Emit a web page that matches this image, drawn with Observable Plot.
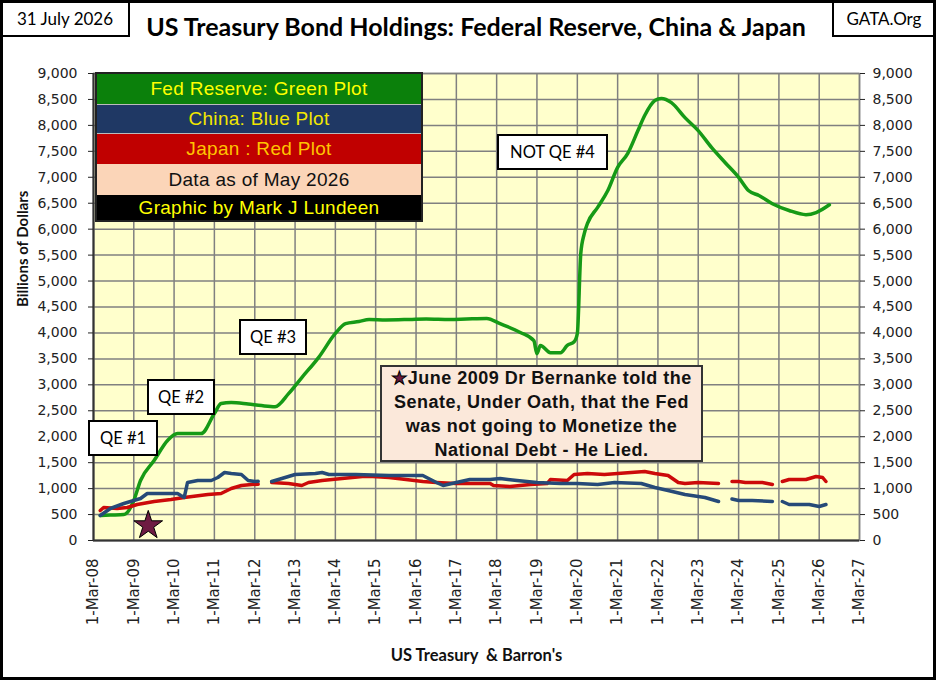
<!DOCTYPE html>
<html>
<head>
<meta charset="utf-8">
<script src="https://cdn.jsdelivr.net/npm/d3@7"></script>
<script src="https://cdn.jsdelivr.net/npm/@observablehq/plot@0.6"></script>
<style>
  html, body { margin: 0; padding: 0; background: #fff; }
  #wrap { position: relative; width: 936px; height: 680px; overflow: hidden; background: #fff; font-family: Lato, "DejaVu Sans", sans-serif; }
  #header { position: relative; height: 40px; }
  .hbox { position: absolute; top: 0; height: 37px; box-sizing: border-box; border: 2px solid #000; background: #fff;
          display: flex; align-items: center; justify-content: center; font: 17px Lato, sans-serif; color: #000; }
  #title { position: absolute; left: 124px; width: 704px; top: 11px; text-align: center; font: bold 25px Lato, sans-serif; color: #000; white-space: nowrap; }
  #frame { position: absolute; inset: 0; border: 3px solid #000; box-sizing: border-box; pointer-events: none; }
  .box { position: absolute; box-sizing: border-box; display: flex; align-items: center; justify-content: center; }
  .qe { background: #fff; border: 2px solid #000; font: 16.5px Lato, sans-serif; color: #000; }
  #legend { position: absolute; box-sizing: border-box; border: 2px solid #222; font: 19px "Liberation Sans", Arial, sans-serif; letter-spacing: 0.3px; }
  #legend div { display: flex; align-items: center; justify-content: center; box-sizing: border-box; white-space: nowrap; }
  #note { background: #fbe8da; border: 2px solid #333; font: bold 18px "Liberation Sans", Arial, sans-serif; color: #111;
          flex-direction: column; line-height: 24px; text-align: center; letter-spacing: 0.5px; white-space: nowrap; }
  .star { color: #6b1a3e; -webkit-text-stroke: 1px #000; font-family: "DejaVu Sans", sans-serif; }
</style>
</head>
<body>
<div id="wrap">
  <div id="header">
    <div class="hbox" style="left:0;width:130px;">31 July 2026</div>
    <div id="title">US Treasury Bond Holdings: Federal Reserve, China &amp; Japan</div>
    <div class="hbox" style="left:832px;width:104px;">GATA.Org</div>
  </div>
  <div id="chart"></div>
  <div id="overlays"></div>
  <div id="frame"></div>
</div>
<script>
// ---------------- data ----------------
const fedDates = ["2008-05","2008-08","2008-12","2009-01","2009-03","2009-05","2009-09","2010-01","2010-04","2010-11","2011-03","2011-05","2011-08","2012-01","2012-05","2012-09","2013-01","2013-05","2013-10","2014-03","2014-06","2014-10","2015-01","2015-06","2016-01","2016-06","2017-01","2017-06","2017-12","2018-04","2018-10","2019-02","2019-03","2019-04","2019-07","2019-10","2019-12","2020-02","2020-03","2020-04","2020-05","2020-06","2020-09","2020-12","2021-03","2021-06","2021-09","2021-11","2022-02","2022-04","2022-07","2022-11","2023-03","2023-07","2023-11","2024-03","2024-06","2024-09","2025-01","2025-06","2025-11","2026-02","2026-06"];
const fedValues = [482,490,500,540,770,1156,1540,1927,2060,2060,2447,2640,2660,2630,2600,2580,2830,3140,3530,3990,4180,4220,4260,4250,4260,4270,4260,4270,4280,4180,4010,3850,3600,3760,3620,3620,3760,3830,3990,5530,5900,6110,6420,6740,7190,7460,7900,8190,8480,8520,8440,8150,7900,7570,7280,7000,6740,6650,6490,6360,6280,6320,6470];

const chinaDates = ["2008-05","2008-08","2008-12","2009-03","2009-05","2009-07","2010-01","2010-04","2010-05","2010-06","2010-07","2010-10","2011-02","2011-04","2011-06","2011-08","2011-11","2012-01","2012-03","2012-04","2012-06","2012-08","2012-11","2013-03","2013-09","2013-11","2014-01","2014-09","2015-07","2016-05","2016-09","2016-11","2017-03","2017-07","2018-01","2018-04","2018-09","2019-03","2019-10","2020-03","2020-09","2021-02","2021-10","2022-02","2022-06","2022-11","2023-05","2023-09","2023-11","2024-01","2024-03","2024-07","2025-01","2025-03","2025-04","2025-06","2025-12","2026-03","2026-05"];
const chinaValues = [482,617,713,770,809,906,906,906,867,829,1118,1156,1156,1214,1310,1290,1272,1156,1137,1140,null,1137,1195,1272,1290,1310,1272,1272,1252,1252,1118,1060,1118,1175,1175,1195,1156,1118,1098,1098,1079,1118,1098,1021,964,886,829,752,null,800,770,770,752,null,752,694,694,655,694];

const japanDates = ["2008-05","2008-06","2008-10","2009-01","2009-04","2009-09","2010-02","2010-06","2011-01","2011-05","2011-08","2011-11","2012-02","2012-04","2012-06","2012-08","2013-01","2013-05","2013-07","2013-11","2014-05","2014-11","2015-02","2015-07","2015-12","2016-05","2016-09","2017-03","2018-01","2018-02","2018-07","2019-01","2019-06","2019-07","2019-12","2020-02","2020-06","2020-11","2021-03","2021-07","2021-11","2022-02","2022-06","2022-09","2022-11","2023-03","2023-09","2023-11","2024-01","2024-03","2024-05","2024-10","2025-01","2025-03","2025-04","2025-06","2025-11","2026-02","2026-04","2026-05"];
const japanValues = [578,636,617,636,694,752,790,829,886,906,1002,1060,1079,1085,null,1118,1098,1060,1118,1156,1195,1233,1233,1214,1175,1137,1118,1098,1098,1060,1040,1079,1098,1175,1156,1272,1290,1272,1290,1310,1330,1290,1252,1118,1098,1118,1098,null,1137,1137,1118,1118,1079,null,1137,1175,1175,1233,1214,1137];

const starDate = ["2009-07"];
const starValue = [290];

const xStart = "2008-03-01", xEnd = "2027-03-01";
const yTicks = d3.range(0, 9001, 500);
const xTickYears = d3.range(2008, 2028);

const axisTitleX = "US Treasury  & Barron's";
const axisTitleY = "Billions of Dollars";

// ---------------- build ----------------
const pm = d3.utcParse("%Y-%m");
const mk = (dates, vals) => dates.map((d, i) => ({date: pm(d), value: vals[i] == null ? NaN : vals[i]}));
const fed = mk(fedDates, fedValues);
const china = mk(chinaDates, chinaValues);
const japan = mk(japanDates, japanValues);
const star = mk(starDate, starValue).map(d => ({...d, date: new Date(d.date.getTime() + 9 * 864e5)}));
const xTicks = xTickYears.map(y => new Date(Date.UTC(y, 2, 1)));
const fmtTick = d3.utcFormat("%-d-%b-%y");

const chart = Plot.plot({
  width: 936,
  height: 640,
  marginLeft: 93,
  marginRight: 77,
  marginTop: 33,
  marginBottom: 140,
  style: {fontFamily: "'DejaVu Sans', sans-serif", background: "transparent", overflow: "visible"},
  x: {type: "utc", domain: [new Date(xStart), new Date(xEnd)]},
  y: {domain: [0, 9000]},
  marks: [
    Plot.frame({fill: "#ffffcc", stroke: null}),
    Plot.gridX(xTicks, {stroke: "#808080", strokeOpacity: 1, strokeWidth: 1.5}),
    Plot.gridY(yTicks, {stroke: "#808080", strokeOpacity: 1, strokeWidth: 1.5}),
    Plot.frame({stroke: "#808080", strokeWidth: 1.5}),
    Plot.ruleX([new Date(xStart)], {stroke: "#333", strokeWidth: 2}),
    Plot.ruleY([0], {stroke: "#333", strokeWidth: 2}),
    Plot.axisY({ticks: yTicks, tickFormat: d3.format(","), tickSize: 5, tickPadding: 11, fontSize: 14, label: null, color: "#222"}),
    Plot.axisY({anchor: "right", ticks: yTicks, tickFormat: d3.format(","), tickSize: 5, tickPadding: 8, fontSize: 14, label: null, color: "#222"}),
    Plot.axisX({ticks: xTicks, tickFormat: fmtTick, tickRotate: -90, tickSize: 0, tickPadding: 18, fontSize: 15, label: null, color: "#222"}),
    Plot.line(fed, {x: "date", y: "value", stroke: "#169a16", strokeWidth: 3.5, strokeLinejoin: "round", curve: "monotone-x"}),
    Plot.line(japan, {x: "date", y: "value", stroke: "#cc0a0a", strokeWidth: 3.5, strokeLinejoin: "round"}),
    Plot.line(china, {x: "date", y: "value", stroke: "#264a78", strokeWidth: 3.5, strokeLinejoin: "round"}),
    Plot.dot(star, {x: "date", y: "value", symbol: "star", r: 9, fill: "#6e1c42", stroke: "#000", strokeWidth: 1}),
    Plot.text([axisTitleX], {frameAnchor: "bottom", dy: 120, fontSize: 16.5, fontWeight: "bold", fontFamily: "Lato, sans-serif", fill: "#111"}),
    Plot.text([axisTitleY], {frameAnchor: "left", dx: -70, rotate: -90, fontSize: 15, fontWeight: "bold", fontFamily: "Lato, sans-serif", fill: "#111"})
  ]
});
document.getElementById("chart").appendChild(chart);

// ---------------- overlay text boxes ----------------
const ov = document.getElementById("overlays");
function box(cls, left, top, w, h, html, id) {
  const d = document.createElement("div");
  d.className = "box " + cls;
  if (id) d.id = id;
  Object.assign(d.style, {left: left + "px", top: top + "px", width: w + "px", height: h + "px"});
  d.innerHTML = html;
  ov.appendChild(d);
  return d;
}
box("qe", 88, 420, 70, 36, "QE #1");
box("qe", 147, 379, 68, 36, "QE #2");
box("qe", 239, 319, 68, 36, "QE #3");
box("qe", 497, 134, 111, 36, "NOT QE #4");
box("", 380, 365, 323, 97,
  '<div><span class="star">★</span>June 2009 Dr Bernanke told the</div><div>Senate, Under Oath, that the Fed</div><div>was not going to Monetize the</div><div>National Debt - He Lied.</div>', "note");

const legendRows = [
  ["Fed Reserve: Green Plot", "#0b800b", "#ffff00", 31],
  ["China: Blue Plot", "#1f3864", "#f2e600", 29],
  ["Japan : Red Plot", "#c00000", "#ffc400", 30],
  ["Data as of May 2026", "#fbd5b8", "#111", 31],
  ["Graphic by Mark J Lundeen", "#000", "#ffff00", 25]
];
const lg = document.createElement("div");
lg.id = "legend";
Object.assign(lg.style, {left: "95px", top: "72px", width: "328px"});
legendRows.forEach(([t, bg, fg, h], i) => {
  const r = document.createElement("div");
  Object.assign(r.style, {background: bg, color: fg, height: h + "px"});
  if (i < 2) r.style.borderBottom = "1px solid #bbb";
  r.textContent = t;
  lg.appendChild(r);
});
ov.appendChild(lg);
</script>
</body>
</html>
